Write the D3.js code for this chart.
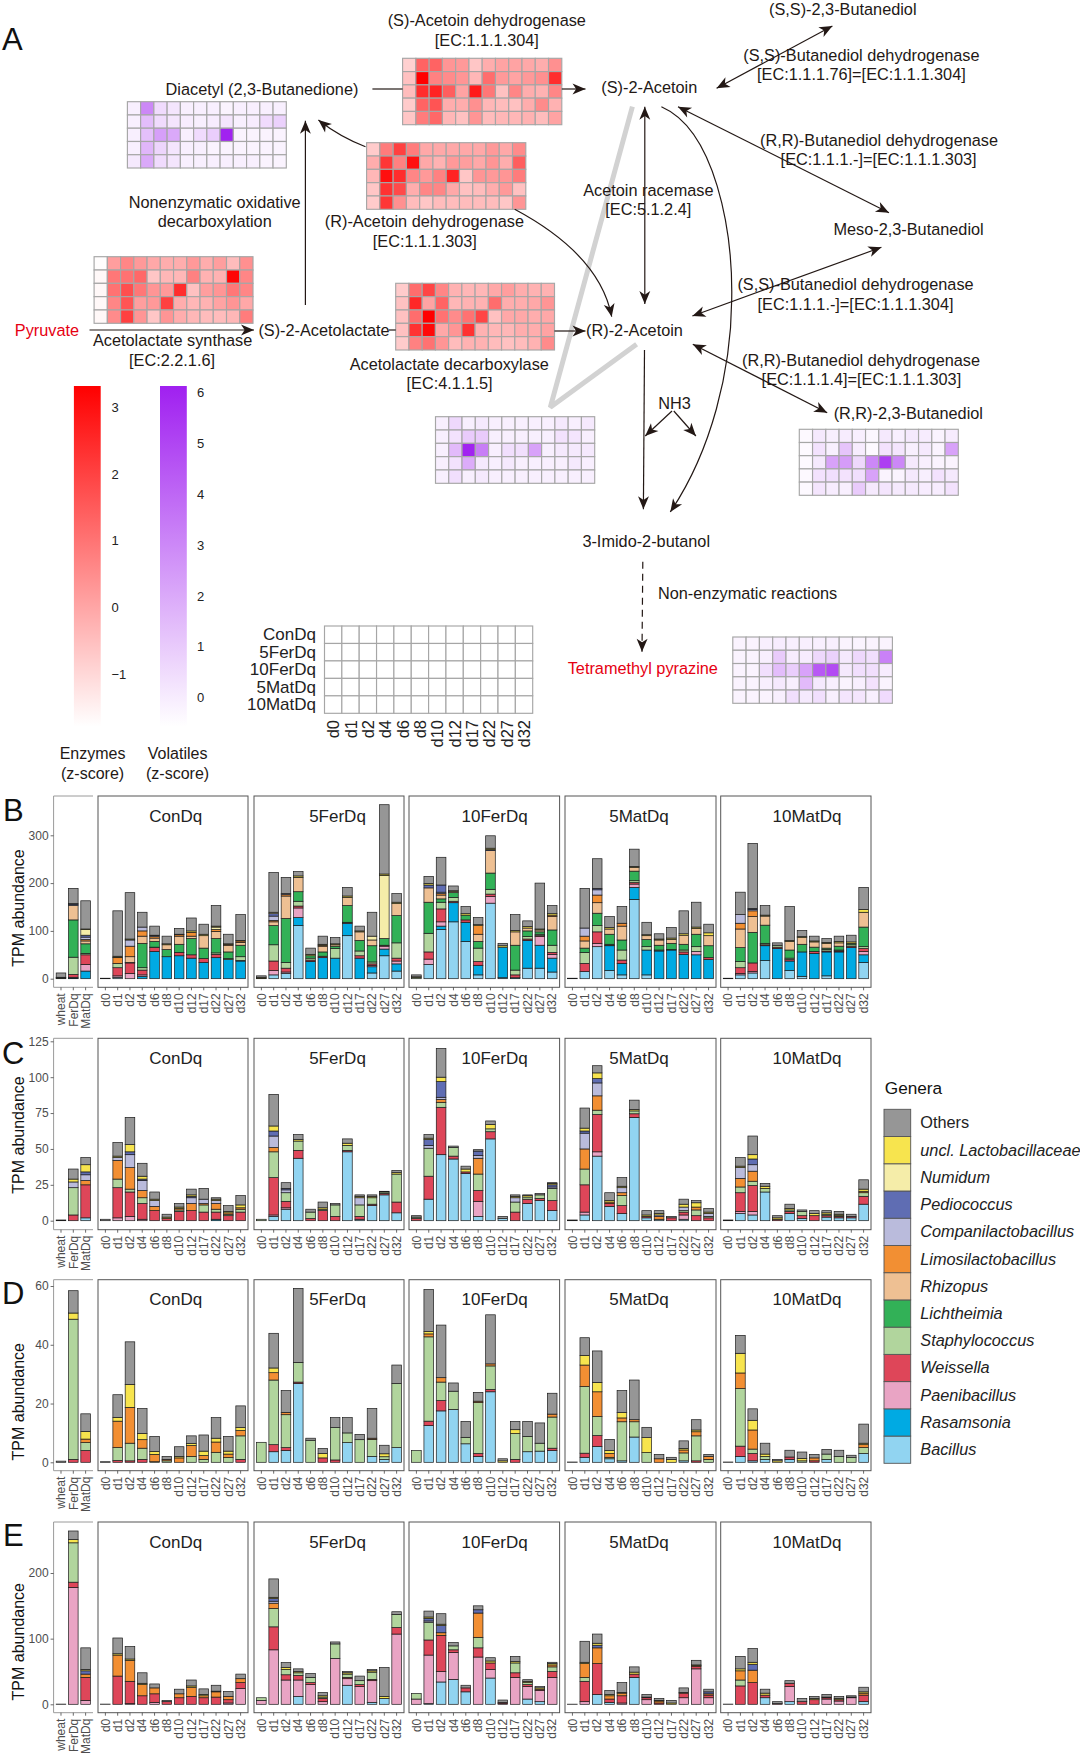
<!DOCTYPE html>
<html><head><meta charset="utf-8">
<script src="https://cdn.jsdelivr.net/npm/d3@7/dist/d3.min.js"></script>
<style>html,body{margin:0;padding:0;background:#fff}svg{display:block}text{font-family:"Liberation Sans",Arial,sans-serif}</style>
</head><body><svg id="c" width="1080" height="1757" viewBox="0 0 1080 1757"></svg>
<script>
const days=["d0","d1","d2","d4","d6","d8","d10","d12","d17","d22","d27","d32"];
const rowsH=["ConDq","5FerDq","10FerDq","5MatDq","10MatDq"];
const groups=["ConDq","5FerDq","10FerDq","5MatDq","10MatDq"];
const samples=["wheat","FerDq","MatDq"];
const genusKeys=["B","R","P","W","S","L","H","I","C","D","N","U","O"];
const genusNames=["Bacillus","Rasamsonia","Paenibacillus","Weissella","Staphylococcus","Lichtheimia","Rhizopus","Limosilactobacillus","Companilactobacillus","Pediococcus","Numidum","uncl. Lactobacillaceae","Others"];
const genusColors=["#91d4f1","#00aae3","#e9a4c4","#de4659","#b1d59d","#32b157","#eec093","#f28f33","#babbdc","#5f6db3","#f5eda9","#f7e44e","#969696"];

// Heatmaps (z-scores)
const hSAD=[[-.9,1.3,1.3,.3,.2,-.7,-.2,0,0,-.1,-.2,.4],[-.6,3.3,.7,.5,.3,-.4,1.1,.2,0,.2,.4,2.4],[-.5,2.4,2.6,1.4,0,2.8,.9,-.6,.6,-.2,-.3,.6],[-.8,1.3,1.6,-.2,-.2,.4,-.4,-.5,-.6,-.2,.5,-.3],[-.7,.8,1.2,-.4,-.6,.3,-.5,-.4,-.4,-.3,-.5,0]];
const hRAD=[[-.8,.8,2,.8,-.1,-.1,-.1,-.1,-.1,.2,-.1,.5],[-.2,2.2,.7,3,-.1,-.3,.2,.1,-.1,.3,-.2,1.4],[-.4,3,2.4,.6,.2,.7,2.6,-.7,.3,.2,.3,.8],[-.7,2.3,1.8,-.2,.6,.6,-.1,-.6,-.5,-.2,.2,-.6],[-.8,2.2,.4,-.5,-.7,-.5,-.5,-.5,-.5,-.5,-.7,.3]];
const hALS=[[-1.8,.1,.6,.2,-.1,-.2,-.2,.2,-.2,.1,-.5,.4],[-1.7,.9,1,1.2,-.7,-.4,-.4,.7,-.3,-.3,3.2,.6],[-1.7,1,1.7,.9,.3,.2,2.4,-.6,.1,.3,.9,.6],[-1.7,.6,1.6,.1,.2,2,-.2,-.4,-.3,0,.3,-.1],[-1.7,.5,2,.3,-.7,.3,-.2,-.4,-.5,-.5,-.4,.8]];
const hALD=[[-.8,1.1,1.9,.6,-.3,-.4,-.4,-.1,.1,-.2,-.3,-.3],[-.6,2.5,0,1.3,-.4,-.3,-.3,1.1,-.2,-.2,-.1,.3],[-.6,1.1,3.3,1,.5,1,1.9,-.6,-.1,-.1,-.2,-.1],[-.6,2.3,3.1,-.1,.3,2.3,-.3,-.4,-.4,-.2,-.2,0],[-.8,.7,1,.3,-.5,-.3,-.3,-.5,-.6,-.5,-.3,.5]];
const hDia=[[-.1,3,.5,.2,-.1,-.1,-.1,-.2,-.1,-.1,-.1,-.1],[-.1,1.4,.5,.2,0,-.1,0,.2,-.1,0,.5,.8],[-.1,1.3,2.3,2,-.1,.5,.9,6,-.2,-.2,-.2,-.2],[-.1,1.6,.7,.2,-.1,-.1,-.2,-.2,-.2,-.2,-.2,-.2],[.1,2,.5,.2,-.1,-.1,-.1,-.1,-.1,-.1,-.2,-.2]];
const hAce=[[-.1,.6,-.1,.1,-.1,-.1,-.1,-.1,-.1,.1,-.1,.1],[-.1,.3,1,1,-.1,-.1,-.1,-.1,-.1,.3,.2,-.1],[-.1,1.5,6,3.3,-.1,.4,.4,2.2,-.1,.1,.1,.1],[-.1,.3,1.9,.1,-.1,.1,-.1,-.1,-.1,-.1,.1,-.1],[-.1,.4,-.1,.1,-.1,-.1,-.1,-.1,-.1,-.1,-.1,-.1]];
const hRR=[[-.4,.1,-.1,0,-.1,-.3,.1,-.1,.1,0,-.2,0],[-.4,.3,-.1,1.2,0,-.4,.3,.2,-.1,.1,-.2,2.2],[-.4,.1,2.2,2.4,.6,3,5.2,3,.1,-.1,-.2,-.2],[-.4,.3,.4,.3,.4,2.2,-.2,-.2,.1,-.1,.3,.1],[-.4,.2,0,-.1,1,.1,.2,.1,.1,0,0,.3]];
const hTMP=[[-.2,-.2,-.1,0,-.1,-.1,-.1,-.1,-.2,-.2,-.2,-.2],[-.2,-.2,-.1,1,0,0,.6,.8,.1,.6,.4,3.2],[-.2,-.2,.4,1.4,.9,2.2,4.4,4.8,.1,.4,.4,0],[-.2,-.2,-.1,.1,-.1,1.5,.1,-.1,-.2,-.1,.3,-.2],[-.2,-.2,-.2,-.1,.4,.1,.4,-.1,.2,.2,-.1,.5]];

// Panel B
const bS=[{R:1,S:1,U:1,O:9},{B:1,R:2,W:6,S:36,L:78,H:30,C:2,D:2,O:32},{R:16,P:14,W:20,S:3,L:20,H:6,I:3,C:5,D:4,N:12,U:1,O:59}];
const bCon=[{O:1},{B:3,P:3,W:17,S:9,I:12,D:1,U:2,O:95},{P:11,W:22,S:1,H:12,I:22,C:13,U:2,O:97},{R:5,P:3,W:10,S:5,L:51,H:15,I:11,C:8,O:31},{R:57,W:8,S:1,L:12,H:7,I:3,C:2,U:1,O:19},{R:46,L:15,U:2,H:10,O:16},{R:48,W:7,L:17,H:17,I:3,U:1,O:12},{R:43,W:7,L:34,H:5,I:8,U:3,O:27},{R:34,W:8,L:22,H:26,U:3,O:21},{R:44,W:7,S:3,L:30,H:15,I:4,N:5,U:2,O:43},{R:40,S:2,L:14,H:14,I:2,U:1,O:20},{R:37,W:1,S:8,L:24,H:6,I:3,N:1,O:54}];
const bFer5=[{S:1,U:2,O:3},{B:8,P:9,W:20,S:34,L:40,H:8,I:3,N:3,C:9,D:5,O:83},{B:11,P:3,W:8,S:12,L:92,H:47,I:3,C:2,O:34},{B:111,R:17,P:20,W:4,S:10,L:20,H:30,U:3,O:9},{R:36,W:3,S:4,L:5,U:3,O:13},{R:44,W:3,L:9,H:12,U:2,I:2,O:17},{R:43,U:2,S:20,L:5,H:3,O:13},{B:90,R:26,W:2,L:35,H:17,U:3,O:18},{R:43,W:5,S:10,L:22,H:18,U:2,O:10},{B:12,R:13,P:3,W:3,S:4,L:34,H:12,N:8,O:50},{B:48,R:14,P:6,W:2,L:14,U:3,N:132,O:145},{B:16,R:15,P:6,W:6,S:32,L:57,H:25,U:3,O:18}];
const bFer10=[{S:3,U:1,O:4},{B:30,P:11,W:15,S:39,L:65,H:30,U:3,D:6,O:15},{B:103,R:7,P:9,W:27,S:14,L:7,H:8,I:3,C:3,D:15,O:58},{B:119,R:40,W:3,S:8,L:10,H:3,U:1,O:10},{B:78,R:40,W:5,L:10,U:3,O:15},{B:8,R:20,W:8,S:28,L:14,H:15,I:18,U:2,O:15},{B:158,P:14,W:5,S:10,L:34,H:47,U:3,D:2,O:26},{B:2,R:64,U:3,O:5},{R:2,W:6,S:10,L:52,H:28,U:3,O:33},{B:22,R:58,W:3,S:5,L:12,H:6,U:3,O:12},{B:22,R:48,P:18,W:2,S:3,L:5,H:4,U:2,O:96},{B:14,R:29,P:8,W:4,S:15,L:32,H:28,I:3,U:3,O:17}];
const bMat5=[{O:1},{B:15,W:17,S:23,L:9,H:15,I:10,C:17,O:83},{B:67,P:7,W:24,S:13,L:26,H:22,I:16,C:11,D:3,O:62},{B:17,R:52,W:1,S:2,L:21,H:11,U:3,O:23},{B:8,R:24,W:7,S:21,L:21,H:29,I:6,O:35},{B:166,R:25,P:7,W:3,S:4,L:20,H:8,U:2,O:36},{B:8,R:52,S:7,L:15,H:8,U:2,O:26},{R:58,S:2,L:10,H:11,U:2,O:11},{R:60,S:1,L:13,H:8,U:3,O:22},{R:51,W:5,S:4,L:12,H:19,U:3,O:48},{R:50,P:7,S:10,L:26,H:12,U:3,O:52},{R:40,W:4,L:25,H:21,U:6,O:18}];
const bMat10=[{O:1},{B:8,P:3,W:12,S:13,L:29,H:39,I:12,C:18,O:47},{B:12,P:3,W:18,L:64,H:33,I:12,C:3,D:2,O:136},{B:38,R:31,W:2,S:3,L:38,H:19,U:2,O:20},{R:63,W:3,S:4,O:5},{B:17,R:20,W:3,S:3,L:17,H:18,U:2,O:71},{B:5,R:51,L:16,H:14,U:2,O:13},{R:53,W:4,L:9,H:11,U:2,O:10},{B:6,R:50,W:2,S:3,L:3,H:10,U:2,O:8},{R:56,W:2,S:2,L:8,H:7,U:3,O:11},{R:65,W:3,S:3,L:3,U:3,O:14},{B:34,R:16,P:7,W:6,S:4,L:41,H:31,U:6,O:46}];

// Panel C
const cS=[{O:.5},{W:4,S:19,C:4,U:2,O:7},{B:2,W:23,I:3,C:4,D:2,U:5,O:5}];
const cCon=[{O:1},{P:2,W:21,S:6,I:13,C:2,U:1,O:9.5},{P:3,W:17,S:2,I:15,C:9,D:2,U:5,O:19},{P:1,W:11,S:4,I:5,C:7,D:1,U:2,O:9},{W:7,I:3,C:4,U:1,O:5},{W:1.5,U:1,O:2},{W:6.5,S:1,I:1,U:1,O:2.5},{W:7,I:5,C:4,D:1,U:1,O:4},{W:6,S:5,I:1,C:3,O:7.5},{R:1,W:5,S:2,I:4,C:2,U:1,O:1},{W:3.5,S:1,I:1,U:1,O:4},{W:6,S:2,I:1,U:2,O:6.5}];
const cFer5=[{S:1},{B:3,P:1,W:26,S:18,I:3,C:8,D:3.5,U:3.5,O:22},{B:8,P:1,W:4.5,S:6,C:2,D:1,O:4},{B:43.5,W:5.5,S:6.5,U:1,O:3.5},{W:1.5,S:4.5,O:2},{W:7,S:1,U:1,O:4},{W:3,S:8,O:1},{B:48,W:1,S:3.5,U:1.5,O:3},{B:1,W:2,S:8,C:5,U:1,O:1},{B:10.5,W:1,S:4.5,U:1,O:1},{B:18,W:1,S:1,O:.5},{B:5.5,W:7.5,S:19.5,U:1,O:1.5}];
const cFer10=[{W:1.5,S:1,O:1},{B:15,W:16,S:19.5,C:2,D:4,U:1,O:2.5},{B:46,W:33,S:3.5,I:2,C:1.5,D:11,U:3,O:20},{B:43,W:2,S:6,O:1},{B:33,W:1,U:2,O:2},{B:3,P:10.5,W:7.5,S:11.5,I:11,C:2,D:3,O:1},{B:57,W:5,S:2,U:3,O:2.5},{B:1.5,O:1.5},{W:6,S:7,C:3,U:1,O:1},{B:12,W:3,S:1.5,U:1,O:.5},{B:14,W:1.5,S:2.5,O:1},{B:7,W:7,S:8.5,C:1,D:1.5,U:1,O:.5}];
const cMat5=[{O:.5},{B:4,P:2,W:19,S:11,I:14,C:11,D:1.5,U:2,O:14},{B:45,P:3,W:26,S:3,I:10,C:9,D:3,U:4,O:5},{B:10,W:2,I:1,U:1,O:5.5},{B:5,W:5.5,S:7,I:2,C:3.5,U:1,O:6},{B:72,W:2.5,S:2,U:1,O:6.5},{B:2,W:1,U:1,O:3},{B:1,I:2,C:1,U:1,O:2},{W:2,O:1},{B:1,P:3,W:2,S:1,C:2.5,U:2,O:3.5},{W:3.5,S:4,I:2,U:3,O:1.5},{W:2,S:1,C:2,U:1,O:2.5}];
const cMat10=[{O:.5},{B:5,P:1.5,W:13,S:4,I:6,C:7.5,U:1,O:6},{B:4,P:2.5,W:18,S:3,I:7,C:4.5,D:4,U:3,O:13},{B:20,S:2.5,U:1.5,O:2},{W:1,U:1,O:1.5},{B:5,W:1.5,S:1,U:1,O:3},{B:1.5,W:2,S:3,O:1},{W:3.5,U:1.5,O:2},{B:2.5,W:1,S:1,U:1,O:1.5},{B:2,W:1,S:.5,U:1,O:2},{B:2,W:1,O:1.5},{B:11.5,W:5.5,S:2.5,I:1,U:1.5,O:6.5}];

// Panel D
const dS=[{O:.4},{W:1,S:47.7,U:2.1,O:7.6},{W:4,S:2.7,I:1.2,U:2.6,O:6}];
const dCon=[{O:.2},{W:.6,S:4.4,I:9,U:1.3,O:7.7},{W:.5,S:6,I:12.2,U:7.8,O:14.5},{W:1,S:3.8,I:2.9,U:2.1,O:8.5},{S:.2,I:2.5,U:1,O:5.1},{S:.5,I:.5,O:1},{I:1.5,U:.5,O:3.3},{S:2,I:3.7,U:.7,O:2.6},{S:1,I:1.3,U:1.5,O:5.5},{S:3.4,I:3.5,U:1.3,O:7},{S:1.6,I:1.2,U:1,O:5},{W:1,S:8,I:1.8,U:1,O:7.4}];
const dFer5=[{S:6.8},{B:3.6,W:2.4,S:22,I:2.5,U:1.6,O:11.8},{B:4,W:1,S:11.2,I:.8,O:7.4},{B:26.8,W:.5,S:6.7,O:25.2},{S:7.5,O:.7},{W:1.5,U:1.5,O:1.7},{W:.8,S:11,O:3.4},{B:6.7,S:3.3,O:5.2},{S:7.7,O:1.8},{B:2,S:5.8,I:.4,O:10.1},{B:1,S:.9,U:1,O:2.9},{B:5,S:21.8,O:6.3}];
const dFer10=[{S:4},{B:12.5,W:1.5,S:28.7,I:1,U:.8,O:14.3},{B:17.5,W:3.5,S:6.3,I:1.5,O:17.9},{B:18,S:6.2,O:2.8},{B:6.3,S:2.2,O:5.4},{B:2,W:1,S:17.3,I:.5,O:3},{B:24,W:.8,S:8,I:.7,O:16.7},{U:.5,O:.7},{W:1,S:8.8,U:1.3,O:2.8},{B:3.6,S:5.2,O:5.1},{B:3.8,S:2.7,O:6.9},{B:4,W:.8,S:10.6,I:1,O:7.1}];
const dMat5=[{O:.1},{B:1.7,W:1.4,S:22.7,I:7.3,U:3.3,O:6},{B:5.4,W:3.7,S:6.5,I:8.4,U:3.2,O:10.7},{B:1.2,S:.5,I:1.3,U:1,O:3.8},{B:.5,S:13.3,I:1.3,U:1.8,O:7.5},{B:8.6,S:5.2,I:.7,O:13.5},{S:3.3,U:5.1,O:3.5},{I:1.2,O:1.5},{U:1,O:.7},{B:.5,S:2.7,I:1,U:.5,O:2.6},{W:.5,S:8.5,I:1.4,U:.6,O:3.5},{S:1,I:1,O:.7}];
const dMat10=[{O:.1},{B:2,W:3.5,S:19.6,I:5.3,U:6.7,O:6.1},{B:.5,W:2.5,S:1.5,I:6.5,U:3.3,O:3.9},{B:1,S:1,U:.8,O:3.7},{U:.5,O:.5},{B:1,W:.8,O:2.3},{S:.5,U:.8,O:2.2},{W:.5,I:1,O:1.2},{B:1,S:1.8,O:1.6},{S:2,O:2.1},{S:1.6,O:.8},{B:3,S:2,I:1,U:.5,O:6.5}];

// Panel E
const eS=[{O:.3},{P:178,W:8,S:60,U:5,O:13},{P:6,W:35,I:5,D:5,U:2,O:33}];
const eCon=[{O:.3},{W:43,I:32,U:2,O:24},{P:1,W:34,I:32,U:2,O:19},{W:13,I:17,U:2,O:16},{P:3,W:13,I:9,O:6},{W:4,O:2},{W:10,I:6,O:7},{W:12,I:14,U:2,O:9},{W:10,I:3,U:2,O:8.5},{W:11,I:8,U:1,O:9},{P:2,W:5,I:5,O:7.5},{P:24,W:9,I:6,O:7}];
const eFer5=[{P:6,S:4},{P:83,W:35,S:28,I:8,C:3,D:4,U:2,O:28},{P:37,W:8,S:8,U:3,O:7.5},{B:12,P:25,W:7,S:4,U:2,O:4},{P:30,W:3,S:8,O:6},{P:4,W:5,S:2,U:2,O:5},{P:70,S:22,O:3},{B:29,P:10,W:2,S:5,U:2,O:2},{P:27,W:3,S:6,O:7},{B:3,P:33,W:2,S:11,U:2,O:2},{B:9,U:3,O:44},{P:107,W:10,S:20,O:4}];
const eFer10=[{P:8,S:8.5},{B:1,P:74,W:23,S:27,U:2,C:2,D:4,O:9},{B:34,P:16,W:55,I:4,D:11,U:2,O:16},{B:38,P:41,W:4,S:6,O:5},{B:19,W:6,O:4},{P:72,W:14,S:16,I:37,D:5,O:6},{B:40,P:13,W:10,U:3,O:5},{P:1,W:2,O:3.5},{P:41,W:7,S:15,U:2,O:8},{B:8,P:19,W:3,S:3,U:2,O:2.5},{B:4,P:17,W:2,U:2,O:2},{P:41,W:9,S:7,I:3,U:2,O:2}];
const eMat5=[{O:.2},{P:4,W:31,S:6,I:21,U:2,O:32},{B:15,W:47,I:24,D:4,U:3,O:14},{B:3,W:5,I:5,U:2,O:6},{P:2,W:11,I:4,U:1,O:15},{B:41,W:5,U:3,O:8},{P:7,W:3,U:1,O:4},{W:2,I:3,U:1,O:3},{U:2,O:4},{P:10,W:7,U:1,O:7},{P:54,W:4,I:1,U:1,O:7},{P:10,W:4,I:2,D:3,O:4}];
const eMat10=[{O:.3},{W:28,S:9,I:14,U:3,O:19},{W:33,I:19,D:9,U:3,O:21},{B:10,W:4,U:3,O:6},{W:1,O:3},{B:4,P:23,W:5,O:4},{W:4,O:5},{W:7,U:2,O:3},{P:8,W:2,U:1,O:4},{P:5,W:2,U:2,O:3},{P:10,W:1,O:2},{B:4,W:10,I:3,U:2,O:7}];

const svg=d3.select("#c");
const ink="#231815";
const F='"Liberation Sans",Arial,sans-serif';
function T(x,y,s,o={}){return svg.append("text").attr("x",x).attr("y",y).attr("text-anchor",o.a||"middle").attr("dominant-baseline","central")
 .attr("font-size",o.f||16.3).attr("fill",o.c||ink).attr("font-style",o.i?"italic":null).text(s);}

// ---- heatmaps
const redScale=d3.scaleLinear().domain([-1.85,3.3]).range(["#ffffff","#ff0000"]);
const purScale=d3.scaleLinear().domain([-.57,6.1]).range(["#ffffff","#a020f0"]);
function heat(x0,y0,x1,y1,vals,color){
 const x=d3.scaleBand().domain(days).range([x0,x1]),y=d3.scaleBand().domain(rowsH).range([y0,y1]);
 const g=svg.append("g");
 rowsH.forEach((r,i)=>days.forEach((d,j)=>{
  g.append("rect").attr("x",x(d)).attr("y",y(r)).attr("width",x.bandwidth()).attr("height",y.bandwidth())
   .attr("fill",vals?color(vals[i][j]):"#fff").attr("stroke","#a6a6a6").attr("stroke-width",1.15);
 }));
 return {x,y};
}

// grey links (under labels)
svg.append("path").attr("d","M632.4,106.7L550.3,407.3L636.6,344.3").attr("fill","none").attr("stroke","#d2d2d2").attr("stroke-width",5).attr("stroke-linejoin","bevel");

heat(402.6,58.3,561.8,124.7,hSAD,redScale);
heat(127.4,101.7,286.3,168,hDia,purScale);
heat(366.6,142.7,525.8,209.3,hRAD,redScale);
heat(94.1,256.7,253,323.3,hALS,redScale);
heat(395.7,283.3,554.5,350,hALD,redScale);
heat(435.5,416.7,594.7,483.3,hAce,purScale);
heat(799.3,429.3,958.3,495.3,hRR,purScale);
heat(732.8,637,892.4,703.3,hTMP,purScale);
const lg=heat(324.5,626,532.7,713.3,null,null);
rowsH.forEach(r=>T(316,lg.y(r)+lg.y.bandwidth()/2,r,{a:"end",f:17,c:"#222"}));
days.forEach(d=>{svg.append("text").attr("transform",`translate(${lg.x(d)+lg.x.bandwidth()/2},720) rotate(-90)`)
 .attr("text-anchor","end").attr("dominant-baseline","central").attr("font-size",16.5).attr("fill","#222").text(d);});

// ---- arrows
function head(x,y,ang){
 const s=13;const pts=[[0,0],[-s,-s*.42],[-s*.72,0],[-s,s*.42]].map(([a,b])=>[x+a*Math.cos(ang)-b*Math.sin(ang),y+a*Math.sin(ang)+b*Math.cos(ang)]);
 svg.append("path").attr("d","M"+pts.join("L")+"Z").attr("fill",ink);
}
function line(x1,y1,x2,y2,both,dash){
 svg.append("line").attr("x1",x1).attr("y1",y1).attr("x2",x2).attr("y2",y2).attr("stroke",ink).attr("stroke-width",1.2).attr("stroke-dasharray",dash||null);
 head(x2,y2,Math.atan2(y2-y1,x2-x1)); if(both)head(x1,y1,Math.atan2(y1-y2,x1-x2));
}
function plain(x1,y1,x2,y2){svg.append("line").attr("x1",x1).attr("y1",y1).attr("x2",x2).attr("y2",y2).attr("stroke",ink).attr("stroke-width",1.2);}
function curve(d,x,y,ang){svg.append("path").attr("d",d).attr("fill","none").attr("stroke",ink).attr("stroke-width",1.2);head(x,y,ang);}
line(89.5,330,254,330);
plain(372.4,89,402.6,89); line(561.8,89,585.5,89);
line(305.4,305,305.4,120.7);
curve("M365.5,146.7Q340,137 318.4,120",318.4,120,Math.atan2(-17,-21));
curve("M514.7,209.3Q600,255 611.7,316.7",611.7,316.7,Math.atan2(60,12));
plain(389,330,395.7,330); line(554.5,331,585.5,331);
line(644.8,106.7,644.8,304,true);
line(644.5,350,643.4,509.3);
line(672,411,645.2,436); line(673.8,411,695.9,436);
curve("M661.4,106.7C715,130 733,230 731.7,300C731,370 712,450 670.3,512",670.3,512,Math.atan2(62,-42));
line(716.6,88.3,832.4,26,true);
line(678,106.7,889,212.7,true);
line(692.4,316,881.4,247.3,true);
line(692.8,344.3,827.2,412.7,true);
line(642.8,561.7,642,651.7,false,"7 5");

// ---- pathway text
T(486.8,20,"(S)-Acetoin dehydrogenase");T(486.8,39.7,"[EC:1.1.1.304]");
T(262,89.3,"Diacetyl (2,3-Butanedione)");
T(214.7,201.7,"Nonenzymatic oxidative");T(214.7,221,"decarboxylation");
T(424.4,220.7,"(R)-Acetoin dehydrogenase");T(424.8,240.7,"[EC:1.1.1.303]");
T(47,330,"Pyruvate",{c:"#e60012"});
T(172.6,340,"Acetolactate synthase");T(172,359.7,"[EC:2.2.1.6]");
T(324,330,"(S)-2-Acetolactate");
T(449.3,363.7,"Acetolactate decarboxylase");T(449.6,383.3,"[EC:4.1.1.5]");
T(842.8,8.7,"(S,S)-2,3-Butanediol");
T(861.4,55,"(S,S)-Butanediol dehydrogenase");T(861.4,74.3,"[EC:1.1.1.76]=[EC:1.1.1.304]");
T(649.3,86.7,"(S)-2-Acetoin");
T(879,140,"(R,R)-Butanediol dehydrogenase");T(878.6,159.3,"[EC:1.1.1.-]=[EC:1.1.1.303]");
T(648.3,190,"Acetoin racemase");T(648.3,209.3,"[EC:5.1.2.4]");
T(908.6,229,"Meso-2,3-Butanediol");
T(855.5,284.3,"(S,S)-Butanediol dehydrogenase");T(855.5,304,"[EC:1.1.1.-]=[EC:1.1.1.304]");
T(634.5,330,"(R)-2-Acetoin");
T(861,360,"(R,R)-Butanediol dehydrogenase");T(861.4,379.3,"[EC:1.1.1.4]=[EC:1.1.1.303]");
T(674.5,403,"NH3");
T(908.3,412.7,"(R,R)-2,3-Butanediol");
T(646.2,541,"3-Imido-2-butanol");
T(747.6,593.3,"Non-enzymatic reactions");
T(642.8,668.3,"Tetramethyl pyrazine",{c:"#e60012"});

// ---- colour bars
const defs=svg.append("defs");
function cbar(id,x0,x1,scale,color,ticks,lx){
 const y=d3.scaleLinear().domain(scale).range([726.7,386]);
 const gr=defs.append("linearGradient").attr("id",id).attr("x1",0).attr("x2",0).attr("y1",1).attr("y2",0);
 gr.append("stop").attr("offset",0).attr("stop-color","#fff");
 gr.append("stop").attr("offset",1).attr("stop-color",color);
 svg.append("rect").attr("x",x0).attr("y",386).attr("width",x1-x0).attr("height",340.7).attr("fill",`url(#${id})`);
 ticks.forEach(t=>T(lx,y(t),String(t).replace("-","\u2212"),{a:"start",f:13,c:"#222"}));
}
cbar("gr",73.9,100.7,[-1.785,3.32],"#ff0000",[-1,0,1,2,3],111.4);
cbar("gp",160,186.8,[-.57,6.13],"#a020f0",[0,1,2,3,4,5,6],197);
T(92.6,753.7,"Enzymes",{f:16});T(92.6,773,"(z-score)",{f:16});
T(177.6,753.7,"Volatiles",{f:16});T(177.6,773,"(z-score)",{f:16});

// ---- letters
[["A",2,39],["B",3,810],["C",2,1053],["D",2,1293],["E",3,1535]].forEach(([s,x,y])=>T(x,y,s,{a:"start",f:31,c:"#111"}));

// ---- bar panels
const stack=d3.stack().keys(genusKeys).value((d,k)=>d[k]||0);
const colorOf=d3.scaleOrdinal().domain(genusKeys).range(genusColors);
const facets=[[98,248],[254,404],[409,559.6],[565,716],[720.7,871]];
const stripX=[175.7,337.5,494.6,639,807];
const panelDefs=[
 {s:bS,g:[bCon,bFer5,bFer10,bMat5,bMat10],top:796,bot:987.3,z:978.7,dom:[0,300],rng:[978.7,835.3],ticks:[0,100,200,300],ty:908},
 {s:cS,g:[cCon,cFer5,cFer10,cMat5,cMat10],top:1038.3,bot:1229.7,z:1220.7,dom:[0,125],rng:[1220.7,1041.3],ticks:[0,25,50,75,100,125],ty:1135},
 {s:dS,g:[dCon,dFer5,dFer10,dMat5,dMat10],top:1279.7,bot:1470.7,z:1462.3,dom:[0,60],rng:[1462.3,1286],ticks:[0,20,40,60],ty:1401.7},
 {s:eS,g:[eCon,eFer5,eFer10,eMat5,eMat10],top:1522,bot:1712.7,z:1704.3,dom:[0,200],rng:[1704.3,1573],ticks:[0,100,200],ty:1641.7}
];
function bars(g,rows,cats,x,y){
 const ser=stack(rows);
 ser.forEach(s=>{
  g.selectAll(null).data(s.filter(d=>d[1]>d[0])).join("rect")
   .attr("x",d=>x(cats[rows.indexOf(d.data)])).attr("width",x.bandwidth())
   .attr("y",d=>y(d[1])).attr("height",d=>Math.max(.1,y(d[0])-y(d[1])))
   .attr("fill",colorOf(s.key)).attr("stroke","#1a1a1a").attr("stroke-width",.7);
 });
}
function xAxis(g,x,yb){
 const a=g.append("g").attr("transform",`translate(0,${yb})`).call(d3.axisBottom(x).tickSize(3).tickPadding(3));
 a.select(".domain").remove();
 a.selectAll("line").attr("stroke","#444").attr("stroke-width",.8);
 a.selectAll("text").attr("transform","rotate(-90)").attr("x",-6).attr("y",0).attr("dy",".35em")
  .attr("text-anchor","end").attr("font-size",12).attr("font-family",F).attr("fill","#4d4d4d");
}
panelDefs.forEach(p=>{
 const y=d3.scaleLinear().domain(p.dom).range(p.rng);
 const g=svg.append("g");
 // side panel
 const sx=d3.scaleBand().domain(samples).range([53.6,93]).paddingInner(.22).paddingOuter(.21);
 bars(g,p.s,samples,sx,y);
 g.append("path").attr("d",`M93,${p.top}H53.6V${p.bot}H93`).attr("fill","none").attr("stroke","#9a9a9a").attr("stroke-width",1);
 xAxis(g,sx,p.bot);
 const ya=g.append("g").attr("transform","translate(53.6,0)").call(d3.axisLeft(y).tickValues(p.ticks).tickSize(3).tickPadding(2));
 ya.select(".domain").remove();
 ya.selectAll("line").attr("stroke","#444").attr("stroke-width",.8);
 ya.selectAll("text").attr("font-size",12).attr("font-family",F).attr("fill","#4d4d4d");
 svg.append("text").attr("transform",`translate(18.6,${p.ty}) rotate(-90)`).attr("text-anchor","middle").attr("dominant-baseline","central").attr("font-size",16).attr("fill","#111").text("TPM abundance");
 facets.forEach((f,i)=>{
  const x=d3.scaleBand().domain(days).range(f).paddingInner(.22).paddingOuter(.21);
  bars(g,p.g[i],days,x,y);
  g.append("rect").attr("x",f[0]).attr("y",p.top).attr("width",f[1]-f[0]).attr("height",p.bot-p.top).attr("fill","none").attr("stroke","#555").attr("stroke-width",1);
  xAxis(g,x,p.bot);
  T(stripX[i],p.top+20,groups[i],{f:17,c:"#222"});
 });
});

// ---- legend
T(884.8,1088.3,"Genera",{a:"start",f:17.2,c:"#111"});
const legY=d3.scaleBand().domain(genusKeys.slice().reverse()).range([1109.3,1463.3]);
genusKeys.forEach((k,i)=>{
 svg.append("rect").attr("x",884).attr("y",legY(k)).attr("width",26.7).attr("height",legY.bandwidth()).attr("fill",colorOf(k)).attr("stroke","#555").attr("stroke-width",.9);
 T(920.3,legY(k)+legY.bandwidth()/2-.5,genusNames[i],{a:"start",f:16.3,i:k!=="O",c:"#222"});
});
</script></body></html>
